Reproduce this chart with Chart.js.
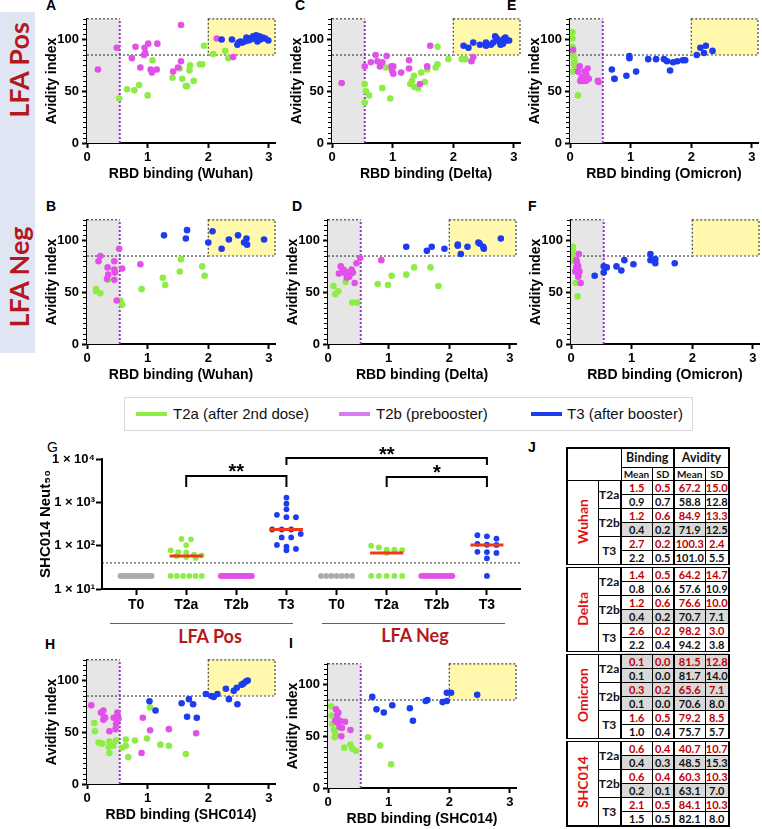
<!DOCTYPE html>
<html>
<head>
<meta charset="utf-8">
<script src="https://cdn.jsdelivr.net/npm/chart.js@4.4.0/dist/chart.umd.min.js"></script>
<style>
  body { margin: 0; width: 762px; height: 829px; position: relative; overflow: hidden; background: #fff; font-family: "Liberation Sans", Arial, sans-serif; }
  canvas { position: absolute; }
  .letter { position: absolute; font-weight: bold; font-size: 14px; line-height: 14px; color: #000; }
  .rot { position: absolute; white-space: nowrap; transform: translate(-50%, -50%) rotate(-90deg); font-family: Lato, sans-serif; font-weight: bold; color: #b3191c; font-size: 27px; }
  #strip { position: absolute; left: 0; top: 12px; width: 35px; height: 341px; background: #dfe5f3; }
  #legend { position: absolute; left: 124px; top: 397px; width: 569px; height: 34px; border: 1px solid #d8d8d8; box-sizing: border-box; }
  .leg { position: absolute; top: 7px; font-size: 15px; line-height: 18px; color: #111; white-space: nowrap; }
  .leg i { position: absolute; top: 7px; width: 31px; height: 4px; }
  .grpline { position: absolute; height: 1px; background: #c23b3b; }
  .grptxt { position: absolute; transform: translate(-50%, -50%); font-family: Lato, sans-serif; font-weight: bold; font-size: 18px; color: #b3191c; white-space: nowrap; }
  #tbl { position: absolute; left: 566px; top: 447px; border-collapse: collapse; table-layout: fixed; font-family: Lato, sans-serif; font-weight: bold; border: 2px solid #000; }
  #tbl td { border: 1px solid #000; padding: 0; text-align: center; font-size: 11px; height: 13px; line-height: 12px; color: #111; }
  #tbl tr.h1 td { height: 18px; font-size: 12.5px; border-top: 2px solid #000; }
  #tbl tr.h2 td { height: 11px; font-size: 10px; }
  #tbl td.blank { border-top: 1px solid #bbb; border-left: 1px solid #bbb; }
  #tbl td.av { border-left: 2px solid #000; }
  #tbl td.tl { font-size: 12px; border-right: 2px solid #000; }
  #tbl td.red { color: #c00000; }
  #tbl td.sh { background: #d9d9d9; }
  #tbl tr.sep td { border-top: 4px double #000; }
  #tbl td.grp span { display: inline-block; writing-mode: vertical-rl; transform: rotate(180deg); color: #e01010; font-size: 14px; }
</style>
</head>
<body>
<div id="strip"></div>
<div class="rot" style="left:18px; top:70px;">LFA Pos</div>
<div class="rot" style="left:18px; top:277px;">LFA Neg</div>

<div class="letter" style="left:46px; top:-2px;">A</div>
<div class="letter" style="left:295px; top:-2px;">C</div>
<div class="letter" style="left:507px; top:-2px;">E</div>
<div class="letter" style="left:46px; top:199px;">B</div>
<div class="letter" style="left:292px; top:199px;">D</div>
<div class="letter" style="left:528px; top:199px;">F</div>
<div class="letter" style="left:47px; top:440px; font-weight:normal;">G</div>
<div class="letter" style="left:45px; top:637px;">H</div>
<div class="letter" style="left:289px; top:636px;">I</div>
<div class="letter" style="left:528px; top:440px;">J</div>

<div id="legend">
  <span class="leg" style="left:11px;"><i style="left:0; background:#8ded45;"></i><span style="margin-left:37px;">T2a (after 2nd dose)</span></span>
  <span class="leg" style="left:214px;"><i style="left:0; background:#d77cf0;"></i><span style="margin-left:37px;">T2b (prebooster)</span></span>
  <span class="leg" style="left:406px;"><i style="left:0; background:#1d3bef;"></i><span style="margin-left:36px;">T3 (after booster)</span></span>
</div>

<div class="grpline" style="left:110px; top:623px; width:183px;"></div>
<div class="grpline" style="left:322px; top:623px; width:183px;"></div>
<div class="grptxt" style="left:210px; top:636px;">LFA Pos</div>
<div class="grptxt" style="left:415px; top:635px;">LFA Neg</div>

<table id="tbl"></table>

<script>
// ---- scatter data: [RBD binding, avidity index] ----
const A_T2a = [[0.53,43],[0.66,52],[0.78,51],[0.86,56],[1.0,46],[1.08,80],[1.41,63],[1.53,72],[1.57,62],[1.63,55],[1.65,55],[1.69,70],[1.7,75],[1.76,60],[1.86,76],[1.9,76],[1.93,94],[2.08,86],[2.28,89],[2.33,82]];
const A_T2b = [[0.18,71],[0.49,92],[0.74,82],[0.8,93],[0.88,73],[0.94,85],[0.95,92],[0.96,87],[1.01,96],[1.05,71],[1.07,68],[1.15,71],[1.16,96],[1.42,69],[1.5,73],[1.55,79],[1.55,114],[2.14,101],[2.41,83]];
const A_T3 = [[2.22,100],[2.39,100],[2.48,95],[2.5,97],[2.53,98],[2.56,97],[2.6,98],[2.63,102],[2.66,99],[2.68,101],[2.7,100],[2.74,103],[2.76,101],[2.79,104],[2.81,98],[2.84,103],[2.86,100],[2.9,102],[2.94,101],[2.99,99]];

const C_T2a = [[0.54,57],[0.54,39],[0.56,50],[0.61,46],[0.83,53],[0.89,73],[0.96,43],[1.29,57],[1.32,60],[1.35,65],[1.36,54],[1.42,53],[1.47,68],[1.53,59],[1.57,71],[1.71,73],[1.74,76],[1.74,93],[1.92,81],[2.14,81],[2.2,81]];
const C_T2b = [[0.16,58],[0.54,74],[0.64,78],[0.72,85],[0.75,79],[0.79,74],[0.83,78],[0.9,84],[0.98,74],[0.99,70],[1.01,67],[1.01,74],[1.14,68],[1.27,80],[1.27,72],[1.45,57],[1.57,74],[1.62,94],[2.3,79],[2.33,83]];
const C_T3 = [[2.17,94],[2.25,92],[2.33,97],[2.44,95],[2.54,97],[2.54,94],[2.62,95],[2.66,97],[2.69,103],[2.72,101],[2.76,98],[2.78,95],[2.8,99],[2.82,96],[2.84,101],[2.86,102],[2.88,99],[2.92,99]];

const E_T2a = [[0.04,107],[0.04,101],[0.04,93],[0.05,88],[0.05,85],[0.07,82],[0.07,79],[0.07,76],[0.08,74],[0.05,69],[0.13,46]];
const E_T2b = [[0.05,90],[0.13,69],[0.16,74],[0.19,64],[0.21,60],[0.24,69],[0.27,66],[0.26,60],[0.29,72],[0.31,62],[0.17,60],[0.22,63],[0.46,60],[0.47,59],[0.74,62]];
const E_T3 = [[0.69,71],[0.73,62],[0.93,65],[0.98,84],[0.98,82],[1.09,69],[1.29,81],[1.42,81],[1.55,81],[1.6,79],[1.65,70],[1.7,78],[1.77,79],[1.86,80],[1.9,80],[2.09,85],[2.15,92],[2.21,87],[2.24,94],[2.35,89]];

const B_T2a = [[0.15,53],[0.15,51],[0.22,49],[0.34,62],[0.55,42],[0.58,38],[0.9,53],[1.25,64],[1.29,57],[1.53,70],[1.55,82],[1.9,75],[1.94,66]];
const B_T2b = [[0.19,80],[0.22,85],[0.34,74],[0.35,67],[0.33,63],[0.45,80],[0.45,72],[0.46,69],[0.45,62],[0.49,42],[0.53,92],[0.58,73],[0.88,77]];
const B_T3 = [[1.27,105],[1.63,102],[1.65,110],[2.0,98],[2.07,109],[2.22,92],[2.34,101],[2.49,105],[2.59,98],[2.63,102],[2.64,96],[2.92,101]];

const D_T2a = [[0.09,56],[0.12,48],[0.17,51],[0.29,60],[0.4,40],[0.48,40],[0.82,58],[0.99,57],[1.05,66],[1.29,67],[1.42,74],[1.69,74],[1.82,56]];
const D_T2b = [[0.18,68],[0.21,75],[0.25,72],[0.26,69],[0.29,70],[0.31,64],[0.35,65],[0.37,68],[0.39,72],[0.41,69],[0.44,59],[0.47,78],[0.53,83],[0.88,81]];
const D_T3 = [[1.29,94],[1.63,90],[1.71,94],[1.92,92],[2.14,96],[2.14,95],[2.19,87],[2.3,94],[2.48,98],[2.5,97],[2.56,94],[2.57,92],[2.85,102]];

const F_T2a = [[0.03,94],[0.03,91],[0.04,89],[0.04,87],[0.04,84],[0.05,82],[0.04,80],[0.08,59],[0.11,46]];
const F_T2b = [[0.13,87],[0.09,81],[0.1,78],[0.12,75],[0.12,71],[0.07,70],[0.14,70],[0.12,67],[0.12,65],[0.16,59],[0.09,74]];
const F_T3 = [[0.39,66],[0.54,69],[0.54,75],[0.59,74],[0.75,75],[0.83,71],[0.88,81],[1.03,77],[1.31,87],[1.31,81],[1.39,82],[1.39,78],[1.71,78]];

const H_T2a = [[0.12,59],[0.13,51],[0.19,40],[0.25,39],[0.37,41],[0.36,36],[0.37,30],[0.43,37],[0.48,42],[0.58,35],[0.64,37],[0.64,43],[0.68,26],[0.79,42],[0.99,44],[1.04,74],[1.21,38],[1.35,37],[1.63,29]];
const H_T2b = [[0.07,76],[0.23,69],[0.27,71],[0.28,65],[0.27,62],[0.3,64],[0.37,51],[0.44,64],[0.47,53],[0.48,58],[0.48,64],[0.5,69],[0.52,63],[0.92,64],[0.9,30],[1.04,52],[1.35,53],[1.8,49]];
const H_T3 = [[1.03,80],[1.13,71],[1.56,78],[1.68,82],[1.75,77],[1.65,65],[1.81,64],[1.96,87],[2.05,85],[2.09,84],[2.15,87],[2.29,92],[2.34,82],[2.42,90],[2.47,93],[2.48,77],[2.55,96],[2.58,97],[2.62,99],[2.65,100]];

const I_T2a = [[0.05,79],[0.06,70],[0.07,62],[0.1,56],[0.12,53],[0.11,49],[0.27,39],[0.37,42],[0.4,38],[0.46,36],[0.66,49],[0.86,41],[1.04,23]];
const I_T2b = [[0.13,76],[0.17,73],[0.15,70],[0.12,65],[0.16,63],[0.2,65],[0.19,59],[0.23,58],[0.22,50],[0.28,64],[0.37,56]];
const I_T3 = [[0.73,88],[0.8,76],[0.92,73],[1.06,80],[1.35,77],[1.4,65],[1.61,84],[1.64,85],[1.89,83],[1.96,84],[1.96,92],[2.03,92],[2.46,90]];

// ---- panel G: SHC014 Neut50 per group ----
const gCats = ['T0','T2a','T2b','T3','T0','T2a','T2b','T3'];
const gPosT0  = [20,20,20,20,20,20,20,20,20,20,20,20,20,20];
const gPosT2a = [143,140,103,78,71,70,62,60,58,55,52,20,20,20,20,20,20];
const gPosT2b = [20,20,20,20,20,20,20,20,20,20,20,20,20,20,20,20];
const gPosT3  = [1290,933,690,516,455,455,236,236,236,187,155,155,104,95,84,78];
const gNegT0  = [20,20,20,20,20,20,20];
const gNegT2a = [100,91,81,81,79,68,20,20,20,20,20];
const gNegT2b = [20,20,20,20,20,20,20,20,20,20,20,20,20];
const gNegT3  = [174,164,145,110,105,104,72,71,68,51,20];
const neutLimit = 40;

// ---- panel J table ----
const tableGroups = ['Wuhan','Delta','Omicron','SHC014'];
const tableTimes = ['T2a','T2b','T3'];
const wuhanStats   = [[1.5,0.5,67.2,15.0],[0.9,0.7,58.8,12.8],[1.2,0.6,84.9,13.3],[0.4,0.2,71.9,12.5],[2.7,0.2,100.3,2.4],[2.2,0.5,101.0,5.5]];
const deltaStats   = [[1.4,0.5,64.2,14.7],[0.8,0.6,57.6,10.9],[1.2,0.6,76.6,10.0],[0.4,0.2,70.7,7.1],[2.6,0.2,98.2,3.0],[2.2,0.4,94.2,3.8]];
const omicronStats = [[0.1,0.0,81.5,12.8],[0.1,0.0,81.7,14.0],[0.3,0.2,65.6,7.1],[0.1,0.0,70.6,8.0],[1.6,0.5,79.2,8.5],[1.0,0.4,75.7,5.7]];
const shc014Stats  = [[0.6,0.4,40.7,10.7],[0.4,0.3,48.5,15.3],[0.6,0.4,60.3,10.3],[0.2,0.1,63.1,7.0],[2.1,0.5,84.1,10.3],[1.5,0.5,82.1,8.0]];
const wuhanShade   = [0,0,0,1,0,0];
const deltaShade   = [0,0,0,1,0,0];
const omicronShade = [1,1,1,1,0,0];
const shc014Shade  = [0,1,0,1,0,0];

// thresholds
const bindingCut = 0.54, avidityCut = 85, highBinding = 2, xMax = 3.1, yMax = 120;

const GREEN = '#8ded45', MAGENTA = '#e250ea', BLUE = '#1d3bef', GRAY = '#ababab', RED = '#ee3a1c';
const tickFont = { family: 'Liberation Sans', size: 13, weight: 'bold' };

const regionsPlugin = {
  id: 'regions',
  beforeDatasetsDraw(chart) {
    const { ctx, scales: { x, y } } = chart;
    const X = v => x.getPixelForValue(v), Y = v => y.getPixelForValue(v);
    const line = (x1, y1, x2, y2) => { ctx.beginPath(); ctx.moveTo(x1, y1); ctx.lineTo(x2, y2); ctx.stroke(); };
    ctx.save();
    ctx.fillStyle = '#e6e6e6';
    ctx.fillRect(X(0), Y(yMax), X(bindingCut) - X(0), Y(0) - Y(yMax));
    ctx.fillStyle = '#fff8ad';
    ctx.fillRect(X(highBinding), Y(yMax), X(xMax) - X(highBinding), Y(avidityCut) - Y(yMax));
    ctx.setLineDash([2, 2]);
    ctx.strokeStyle = '#444';
    ctx.lineWidth = 1.2;
    ctx.strokeRect(X(highBinding), Y(yMax), X(xMax) - X(highBinding), Y(avidityCut) - Y(yMax));
    line(X(0), Y(yMax), X(bindingCut), Y(yMax));
    line(X(0), Y(avidityCut), X(highBinding), Y(avidityCut));
    ctx.strokeStyle = '#9b32c6';
    ctx.lineWidth = 2;
    line(X(bindingCut), Y(0), X(bindingCut), Y(yMax));
    ctx.restore();
  },
  afterDraw(chart) {
    // minor ticks on the avidity axis
    const { ctx, scales: { y }, chartArea } = chart;
    ctx.save();
    ctx.strokeStyle = '#000';
    ctx.lineWidth = 1;
    for (let v = 5; v <= yMax; v += 5) {
      if (v % 50 === 0) continue;
      const py = Math.round(y.getPixelForValue(v)) + 0.5;
      ctx.beginPath(); ctx.moveTo(chartArea.left - 4, py); ctx.lineTo(chartArea.left, py); ctx.stroke();
    }
    ctx.restore();
  }
};

function ds(points, color, order) {
  return { data: points.map(p => ({ x: p[0], y: p[1] })), backgroundColor: color, borderWidth: 0, pointRadius: 3.3, order: order };
}

function makeScatter(areaLeft, areaTop, title, t2a, t2b, t3) {
  const cv = document.createElement('canvas');
  cv.width = 240; cv.height = 177;
  cv.style.left = (areaLeft - 48) + 'px';
  cv.style.top = (areaTop - 8) + 'px';
  document.body.appendChild(cv);
  new Chart(cv, {
    type: 'scatter',
    data: { datasets: [ds(t2a, GREEN, 3), ds(t2b, MAGENTA, 2), ds(t3, BLUE, 1)] },
    options: {
      responsive: false, animation: false,
      layout: { padding: { top: 8, right: 2, left: 0, bottom: 0 } },
      plugins: { legend: { display: false }, tooltip: { enabled: false } },
      scales: {
        x: {
          type: 'linear', min: 0, max: xMax,
          afterBuildTicks: s => { s.ticks = [0, 1, 2, 3].map(v => ({ value: v })); },
          afterFit: s => { s.height = 42; },
          grid: { drawOnChartArea: false, tickLength: 5, tickWidth: 2, tickColor: '#000' },
          border: { color: '#000', width: 2 },
          ticks: { color: '#000', font: tickFont, padding: 2 },
          title: { display: true, text: title, color: '#000', font: { family: 'Liberation Sans', size: 14, weight: 'bold' }, padding: { top: 0, bottom: 2 } }
        },
        y: {
          min: 0, max: yMax,
          afterBuildTicks: s => { s.ticks = [0, 50, 100].map(v => ({ value: v })); },
          afterFit: s => { s.width = 48; },
          grid: { drawOnChartArea: false, tickLength: 5, tickWidth: 2, tickColor: '#000' },
          border: { color: '#000', width: 2 },
          ticks: { color: '#000', font: tickFont, padding: 3 },
          title: { display: true, text: 'Avidity index', color: '#000', font: { family: 'Liberation Sans', size: 14, weight: 'bold' }, padding: { top: 5, bottom: 0 } }
        }
      }
    },
    plugins: [regionsPlugin]
  });
}

makeScatter(87, 16, 'RBD binding (Wuhan)', A_T2a, A_T2b, A_T3);
makeScatter(332, 16, 'RBD binding (Delta)', C_T2a, C_T2b, C_T3);
makeScatter(570, 16, 'RBD binding (Omicron)', E_T2a, E_T2b, E_T3);
makeScatter(87, 217, 'RBD binding (Wuhan)', B_T2a, B_T2b, B_T3);
makeScatter(328, 217, 'RBD binding (Delta)', D_T2a, D_T2b, D_T3);
makeScatter(571, 217, 'RBD binding (Omicron)', F_T2a, F_T2b, F_T3);
makeScatter(87, 657, 'RBD binding (SHC014)', H_T2a, H_T2b, H_T3);
makeScatter(328, 661, 'RBD binding (SHC014)', I_T2a, I_T2b, I_T3);

// ---- panel G ----
// spread tied / near-tied values sideways (simple swarm)
function swarm(values, idx) {
  const sorted = [...values].sort((a, b) => b - a);
  const bins = [];
  sorted.forEach(v => {
    const last = bins[bins.length - 1];
    if (last && Math.log10(last[0]) - Math.log10(v) < 0.12) last.push(v); else bins.push([v]);
  });
  const pts = [];
  bins.forEach(b => {
    const step = b.length > 1 ? Math.min(0.19, 0.62 / (b.length - 1)) : 0;
    b.forEach((v, k) => pts.push({ x: idx + (k - (b.length - 1) / 2) * step, y: v }));
  });
  return pts;
}
function median(values) {
  const s = [...values].sort((a, b) => a - b), n = s.length;
  return n % 2 ? s[(n - 1) / 2] : (s[n / 2 - 1] + s[n / 2]) / 2;
}

const gGroups = [gPosT0, gPosT2a, gPosT2b, gPosT3, gNegT0, gNegT2a, gNegT2b, gNegT3];
const gColors = [GRAY, GREEN, MAGENTA, BLUE, GRAY, GREEN, MAGENTA, BLUE];
const gDatasets = [];
gGroups.forEach((vals, i) => {
  gDatasets.push({ type: 'scatter', data: swarm(vals, i), backgroundColor: gColors[i], borderWidth: 0, pointRadius: 2.9, order: 2 });
  if (Math.min(...vals) !== Math.max(...vals)) {
    const m = median(vals);
    gDatasets.push({ type: 'line', data: [{ x: i - 0.33, y: m }, { x: i + 0.33, y: m }], borderColor: RED, borderWidth: 3, pointRadius: 0, order: 1 });
  }
});

const sigBrackets = [
  { from: 1, to: 3, label: '**', top: 4055, leg: 2260 },
  { from: 3, to: 7, label: '**', top: 10540, leg: 7280 },
  { from: 5, to: 7, label: '*', top: 3845, leg: 2260 }
];
const supers = { 1: '\u00b9', 2: '\u00b2', 3: '\u00b3', 4: '\u2074' };

const gPlugin = {
  id: 'gExtras',
  beforeDatasetsDraw(chart) {
    const { ctx, scales: { y }, chartArea } = chart;
    const py = y.getPixelForValue(neutLimit);
    ctx.save();
    ctx.setLineDash([2, 2]); ctx.strokeStyle = '#333'; ctx.lineWidth = 1;
    ctx.beginPath(); ctx.moveTo(chartArea.left, py); ctx.lineTo(chartArea.right, py); ctx.stroke();
    ctx.restore();
  },
  afterDraw(chart) {
    const { ctx, scales: { x, y } } = chart;
    ctx.save();
    ctx.strokeStyle = '#000'; ctx.lineWidth = 2; ctx.fillStyle = '#000';
    ctx.font = 'bold 20px "Liberation Sans"'; ctx.textAlign = 'center'; ctx.textBaseline = 'alphabetic';
    sigBrackets.forEach(b => {
      const x1 = x.getPixelForValue(b.from), x2 = x.getPixelForValue(b.to);
      const yt = y.getPixelForValue(b.top), yl = y.getPixelForValue(b.leg);
      ctx.beginPath(); ctx.moveTo(x1, yl); ctx.lineTo(x1, yt); ctx.lineTo(x2, yt); ctx.lineTo(x2, yl); ctx.stroke();
      ctx.fillText(b.label, (x1 + x2) / 2, yt + 2.5);
    });
    ctx.restore();
  }
};

(function () {
  const cv = document.createElement('canvas');
  cv.width = 491; cv.height = 179;
  cv.style.left = '33px'; cv.style.top = '436px';
  document.body.appendChild(cv);
  new Chart(cv, {
    type: 'scatter',
    data: { datasets: gDatasets },
    options: {
      responsive: false, animation: false,
      layout: { padding: { top: 23, right: 4, left: 0, bottom: 0 } },
      plugins: { legend: { display: false }, tooltip: { enabled: false } },
      scales: {
        x: {
          type: 'linear', min: -0.68, max: 7.66,
          afterBuildTicks: s => { s.ticks = gCats.map((c, i) => ({ value: i })); },
          afterFit: s => { s.height = 26; },
          grid: { drawOnChartArea: false, tickLength: 6, tickWidth: 2, tickColor: '#000' },
          border: { color: '#000', width: 2 },
          ticks: { color: '#000', font: { family: 'Liberation Sans', size: 14, weight: 'bold' }, padding: 2, callback: v => gCats[v] }
        },
        y: {
          type: 'logarithmic', min: 10, max: 10000,
          afterBuildTicks: s => { s.ticks = [10, 100, 1000, 10000].map(v => ({ value: v })); },
          afterFit: s => { s.width = 69; },
          grid: { drawOnChartArea: false, tickLength: 6, tickWidth: 2, tickColor: '#000' },
          border: { color: '#000', width: 2 },
          ticks: { color: '#000', font: tickFont, padding: 1, callback: v => '1 \u00d7 10' + supers[Math.round(Math.log10(v))] },
          title: { display: true, text: 'SHC014 Neut\u2085\u2080', color: '#000', font: { family: 'Liberation Sans', size: 15, weight: 'bold' }, padding: { top: 4, bottom: 0 } }
        }
      }
    },
    plugins: [gPlugin]
  });
})();

// ---- panel J ----
(function () {
  const stats = [wuhanStats, deltaStats, omicronStats, shc014Stats];
  const shades = [wuhanShade, deltaShade, omicronShade, shc014Shade];
  const widths = [31, 23, 31, 22, 31, 24];
  let html = '<colgroup>' + widths.map(w => `<col style="width:${w}px">`).join('') + '</colgroup>';
  html += '<tr class="h1"><td class="blank" colspan="2" rowspan="2"></td><td colspan="2">Binding</td><td colspan="2" class="av">Avidity</td></tr>';
  html += '<tr class="h2"><td>Mean</td><td>SD</td><td class="av">Mean</td><td>SD</td></tr>';
  tableGroups.forEach((g, gi) => {
    stats[gi].forEach((row, ri) => {
      html += `<tr class="${ri === 0 && gi > 0 ? 'sep' : ''}">`;
      if (ri === 0) html += `<td rowspan="6" class="grp"><span>${g}</span></td>`;
      if (ri % 2 === 0) html += `<td rowspan="2" class="tl">${tableTimes[ri / 2]}</td>`;
      row.forEach((v, ci) => {
        const cls = [ri % 2 === 0 ? 'red' : '', shades[gi][ri] ? 'sh' : '', ci === 2 ? 'av' : ''].join(' ');
        html += `<td class="${cls}">${v.toFixed(1)}</td>`;
      });
      html += '</tr>';
    });
  });
  document.getElementById('tbl').innerHTML = html;
})();
</script>
</body>
</html>
